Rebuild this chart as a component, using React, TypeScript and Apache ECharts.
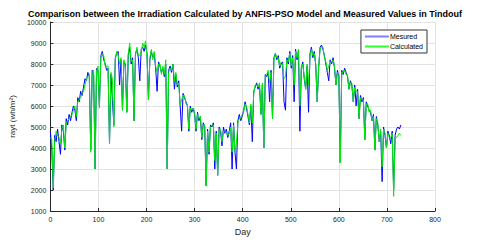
import React, { useEffect, useRef } from "react";
import * as echarts from "echarts";

// Sampling step of the read-off values (days)
const DAY_STEP = 3;

// Measured daily irradiation (wh/m²), read every 3 days starting at day 0
const measured = [
  4800, 3900, 2000, 4600, 4300, 4900, 4300, 3700, 5100, 4800, // 0
  3900, 5400, 5100, 5600, 5300, 5700, 6000, 5800, 5300, 6400, // 30
  6200, 6700, 6500, 6900, 7300, 7200, 7600, 7400, 3900, 7700, // 60
  7500, 3000, 7800, 7700, 6000, 8400, 8600, 8200, 8000, 7700, // 90
  7800, 4200, 7500, 6300, 5100, 8300, 8500, 8600, 7000, 8200, // 120
  5800, 8100, 8000, 5700, 8400, 8800, 8000, 8300, 5300, 8500, // 150
  8700, 8300, 7200, 8700, 8800, 8600, 8900, 8500, 6300, 8200, // 180
  8600, 8300, 8500, 7800, 6700, 8100, 7900, 7600, 7800, 7400, // 210
  8000, 3000, 7700, 7900, 7600, 8000, 6800, 7500, 6900, 7200, // 240
  6000, 4800, 6600, 6400, 6200, 6000, 4800, 6000, 5700, 5900, // 270
  5600, 4800, 5700, 5300, 5500, 4400, 5200, 5000, 2200, 4900, // 300
  3700, 5100, 5000, 5200, 3000, 4800, 2700, 5000, 4800, 4100, // 330
  5000, 4700, 4900, 4500, 4800, 5200, 3000, 5200, 3800, 3000, // 360
  5300, 5600, 5300, 5500, 5800, 6200, 5900, 5500, 5100, 6000, // 390
  4300, 6700, 6900, 7100, 6800, 7000, 5600, 7000, 4000, 7500, // 420
  7400, 7600, 6200, 7700, 5400, 8300, 8500, 8200, 8400, 7800, // 450
  8000, 8100, 6200, 5800, 8300, 8000, 8600, 7800, 8400, 6200, // 480
  8700, 8200, 8600, 4800, 7800, 8100, 7300, 6800, 7900, 5700, // 510
  8500, 8800, 8300, 8600, 7900, 6200, 7800, 8800, 8900, 8700, // 540
  8400, 8000, 7600, 7200, 8200, 8000, 8300, 7800, 7000, 7700, // 570
  7400, 3300, 7700, 7500, 7800, 7600, 7400, 6800, 7200, 7000, // 600
  6200, 7000, 6000, 6800, 5400, 6500, 6200, 6400, 4400, 6200, // 630
  6000, 5800, 5700, 5300, 5600, 3900, 5500, 5100, 4300, 4800, // 660
  2400, 5000, 4600, 4000, 4800, 4600, 4200, 4800, 2000, 4600, // 690
  4900, 5000, 4900, 5100, // 720
];

// ANFIS-PSO calculated irradiation (wh/m²), same days
const calculated = [
  4500, 4400, 2100, 4300, 4800, 4600, 4500, 4200, 4900, 5100, // 0
  4000, 5200, 5300, 5400, 5500, 5600, 5800, 6000, 5500, 6200, // 30
  6300, 6400, 6600, 6700, 7000, 7300, 7400, 7500, 3800, 7600, // 60
  7700, 3000, 7700, 7900, 5900, 8300, 8500, 8400, 7900, 7900, // 90
  7900, 4200, 7600, 7300, 5000, 8200, 8600, 8400, 8000, 8300, // 120
  5800, 8200, 7900, 5700, 8500, 9000, 8100, 8200, 5300, 8400, // 150
  8800, 8400, 8400, 8600, 9000, 8800, 9100, 8400, 6300, 8300, // 180
  8700, 8200, 8600, 7900, 7600, 8000, 8000, 7500, 7900, 7500, // 210
  8200, 3000, 7600, 7800, 7700, 8000, 7200, 7600, 7000, 7100, // 240
  6000, 6300, 6500, 6500, 6100, 6100, 4900, 5900, 5800, 5900, // 270
  5700, 4900, 5600, 5400, 5500, 4500, 5100, 5100, 2200, 4800, // 300
  3800, 5000, 5100, 5100, 3400, 4700, 2700, 4900, 4900, 4300, // 330
  4800, 4800, 4700, 4600, 4700, 5000, 3800, 5100, 3800, 4200, // 360
  5200, 5400, 5400, 5600, 5700, 6100, 6000, 5600, 5200, 6100, // 390
  5200, 6600, 7000, 7000, 6900, 7100, 5600, 7100, 4000, 7400, // 420
  7500, 7700, 7100, 7600, 5400, 8200, 8500, 8300, 8300, 7900, // 450
  8100, 8000, 7300, 7400, 8200, 8100, 8500, 7900, 8300, 7000, // 480
  8600, 8300, 8700, 6000, 7900, 8000, 7400, 6800, 8000, 7000, // 510
  8400, 8700, 8400, 8500, 8000, 6200, 7900, 8700, 8800, 8800, // 540
  8300, 8100, 7700, 7900, 8100, 8100, 8200, 7900, 7000, 7600, // 570
  7500, 3300, 7600, 7600, 7700, 7500, 7500, 6800, 7100, 7100, // 600
  6200, 6900, 6700, 6700, 5400, 6400, 6300, 6300, 4400, 6100, // 630
  6100, 5700, 5800, 5300, 5500, 3900, 5400, 5200, 4300, 4900, // 660
  3100, 4900, 4700, 4000, 4700, 4500, 4500, 4700, 1700, 4500, // 690
  4500, 4600, 4700, 4600, // 720
];

const seriesNames = ["Mesured", "Calculated"];
const xTicks = { min: 0, max: 800, interval: 100 };
const yTicks = { min: 1000, max: 10000, interval: 1000 };

const TITLE =
  "Comparison between the Irradiation Calculated by ANFIS-PSO Model and Measured Values in Tindouf";

export default function App() {
  const ref = useRef<HTMLDivElement>(null);

  useEffect(() => {
    if (!ref.current) return;
    const chart = echarts.init(ref.current, null, { renderer: "svg" });
    const toPairs = (arr: number[]) => arr.map((v, i) => [i * DAY_STEP, v]);
    const axisColor = "#262626";
    const font = "Liberation Sans, Arial, sans-serif";

    chart.setOption({
      animation: false,
      backgroundColor: "#ffffff",
      title: {
        text: TITLE,
        left: 240,
        textAlign: "center",
        top: 4,
        textStyle: { fontSize: 9, fontWeight: "bold", color: "#000", fontFamily: font },
      },
      grid: { left: 46, right: 45, top: 22, bottom: 32, containLabel: false },
      legend: {
        orient: "vertical",
        right: 53,
        top: 30,
        data: seriesNames.map((n) => ({ name: n, icon: "rect" })),
        itemWidth: 24,
        itemHeight: 2,
        itemGap: 3,
        padding: [3, 4, 3, 4],
        borderColor: "#333",
        borderWidth: 1,
        backgroundColor: "#fff",
        textStyle: { fontSize: 7, color: "#000", fontFamily: font, padding: [0, 0, 0, -4] },
      },
      xAxis: {
        type: "value",
        min: xTicks.min,
        max: xTicks.max,
        interval: xTicks.interval,
        name: "Day",
        nameLocation: "middle",
        nameGap: 16,
        nameTextStyle: { fontSize: 9, color: axisColor, fontFamily: font },
        axisLine: { show: true, lineStyle: { color: axisColor, width: 1 } },
        axisTick: { show: true, inside: true, length: 3, lineStyle: { color: axisColor } },
        axisLabel: { fontSize: 7, color: axisColor, margin: 5, fontFamily: font, formatter: (v: number) => String(v) },
        splitLine: { show: true, lineStyle: { color: "#e3e3e3", width: 1 } },
      },
      yAxis: {
        type: "value",
        min: yTicks.min,
        max: yTicks.max,
        interval: yTicks.interval,
        name: "rayt (wh/m²)",
        nameLocation: "middle",
        nameGap: 19,
        nameTextStyle: { fontSize: 8, color: axisColor, fontFamily: font },
        axisLine: { show: true, lineStyle: { color: axisColor, width: 1 } },
        axisTick: { show: true, inside: true, length: 3, lineStyle: { color: axisColor } },
        axisLabel: { fontSize: 7, color: axisColor, margin: 4, fontFamily: font, formatter: (v: number) => String(v) },
        splitLine: { show: true, lineStyle: { color: "#e3e3e3", width: 1 } },
      },
      series: [
        {
          name: seriesNames[0],
          type: "line",
          data: toPairs(measured),
          showSymbol: false,
          lineStyle: { color: "#0000ff", width: 1 },
          itemStyle: { color: "#7f7fff" },
          z: 2,
        },
        {
          name: seriesNames[1],
          type: "line",
          data: toPairs(calculated),
          showSymbol: false,
          lineStyle: { color: "#00ee00", width: 1 },
          itemStyle: { color: "#33ff33" },
          z: 3,
        },
      ],
    });
    return () => chart.dispose();
  }, []);

  return <div ref={ref} style={{ width: 480, height: 243, position: "absolute", left: 0, top: 0 }} />;
}
